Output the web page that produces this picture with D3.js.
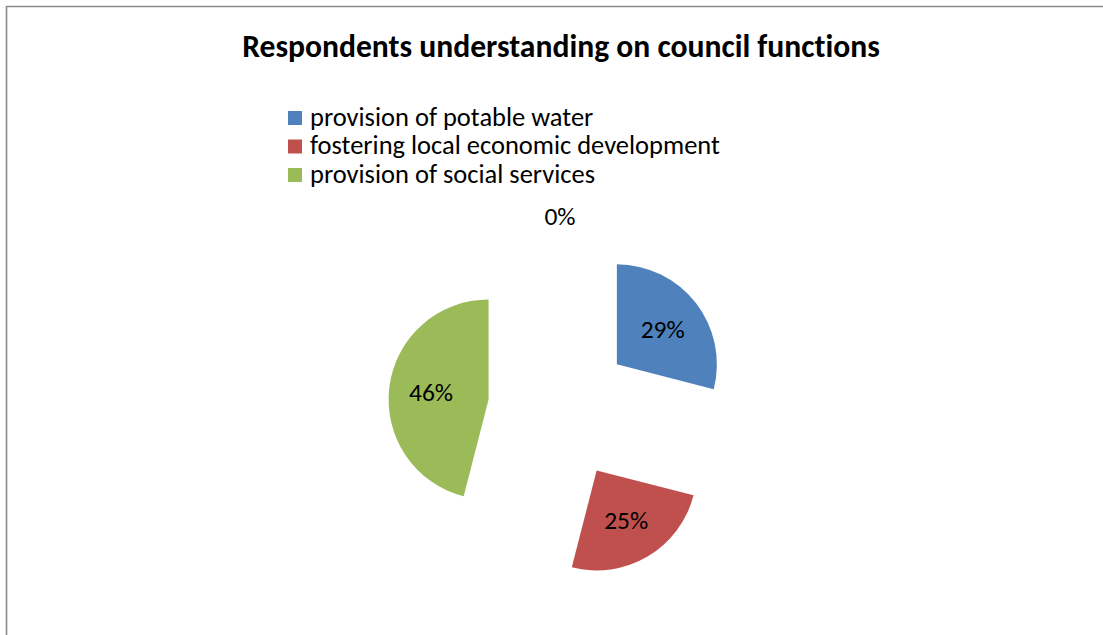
<!DOCTYPE html>
<html>
<head>
<meta charset="utf-8">
<script src="https://cdn.jsdelivr.net/npm/d3@7"></script>
<style>
  body { margin: 0; background: #fff; }
  svg { display: block; font-family: Carlito, Calibri, Lato, sans-serif; font-variant-ligatures: none; font-feature-settings: "liga" 0, "clig" 0; }
</style>
</head>
<body>
<div id="chart"></div>
<script>
// Data
var categories = ["provision of potable water", "fostering local economic development", "provision of social services", ""];
var values = [29, 25, 46, 0];
var colors = ["#4F81BD", "#C0504D", "#9BBB59", "#8064A2"];
var title = "Respondents understanding on council functions";

// Dimensions
var width = 1103;
var height = 635;
var cx = 560, cy = 408.5;
var radius = 100;
var explode = 72;

var svg = d3.select("#chart").append("svg")
    .attr("width", width)
    .attr("height", height);

// chart area border
svg.append("path")
    .attr("d", "M6.5," + height + "V6.5H" + width)
    .attr("fill", "none")
    .attr("stroke", "#8a8a8a")
    .attr("stroke-width", 1.6);

// title, sized to the width of the original
var titleText = svg.append("text")
    .attr("x", 561)
    .attr("y", 57)
    .attr("text-anchor", "middle")
    .style("font-weight", "bold")
    .style("font-size", "26px")
    .text(title);
var tw = titleText.node().getComputedTextLength();
titleText.style("font-size", (26 * 638 / tw) + "px");

// legend
var legend = svg.append("g").attr("transform", "translate(288,0)");
var legendItems = categories.filter(function(c) { return c !== ""; });
var rowY = d3.scalePoint().domain(legendItems).range([118, 175]);

var items = legend.selectAll(".item")
    .data(legendItems)
  .enter().append("g")
    .attr("class", "item")
    .attr("transform", function(d) { return "translate(0," + rowY(d) + ")"; });

items.append("rect")
    .attr("x", 0)
    .attr("y", -7)
    .attr("width", 14)
    .attr("height", 14)
    .attr("fill", function(d, i) { return colors[i]; });

var legendTexts = items.append("text")
    .attr("x", 22)
    .attr("y", 7.5)
    .style("font-size", "24px")
    .text(function(d) { return d; });

// same font size on every row, taken from the longest one
var maxW = d3.max(legendTexts.nodes(), function(n) { return n.getComputedTextLength(); });
legendTexts.style("font-size", (24 * 410 / maxW) + "px");

// pie
var pie = d3.pie().sort(null).value(function(d) { return d; });
var arcs = pie(values);

var arc = d3.arc().innerRadius(0).outerRadius(radius);
var labelArc = d3.arc().innerRadius(58).outerRadius(58);
var outerLabelArc = d3.arc().innerRadius(192).outerRadius(192);

var g = svg.append("g").attr("transform", "translate(" + cx + "," + cy + ")");

function offset(d) {
    var a = (d.startAngle + d.endAngle) / 2;
    return [explode * Math.sin(a), -explode * Math.cos(a)];
}

var slices = g.selectAll(".arc")
    .data(arcs)
  .enter().append("g")
    .attr("class", "arc")
    .attr("transform", function(d) { return "translate(" + offset(d) + ")"; });

slices.filter(function(d) { return d.value > 0; })
  .append("path")
    .attr("d", arc)
    .attr("fill", function(d) { return colors[d.index]; });

slices.append("text")
    .attr("transform", function(d) {
        if (d.value > 0) return "translate(" + labelArc.centroid(d) + ")";
        var o = offset(d);
        var c = outerLabelArc.centroid(d);
        return "translate(" + (c[0] - o[0]) + "," + (c[1] - o[1]) + ")";
    })
    .attr("dy", ".35em")
    .attr("text-anchor", "middle")
    .style("font-size", "25.5px")
    .style("fill", "#000")
    .text(function(d) { return d.value + "%"; });
</script>
</body>
</html>
